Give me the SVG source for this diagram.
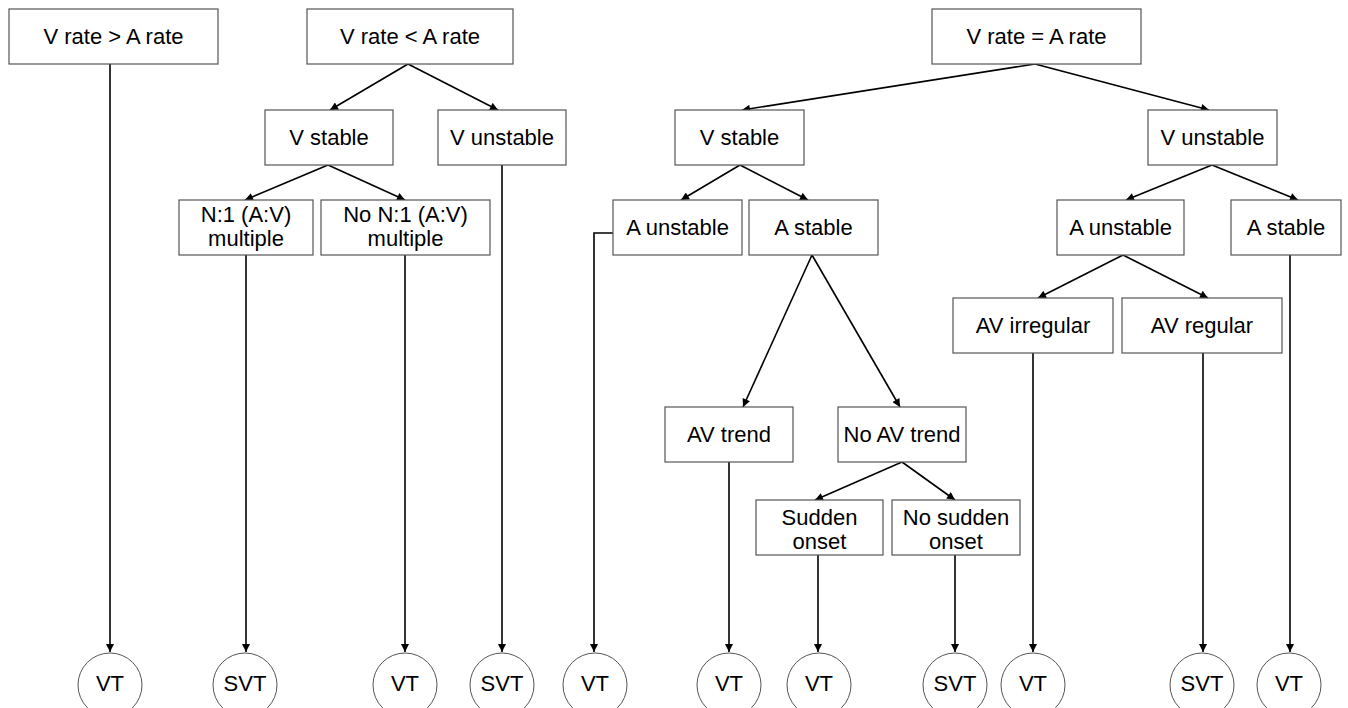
<svg xmlns="http://www.w3.org/2000/svg" width="1348" height="708" viewBox="0 0 1348 708">
<style>
.box{fill:#fff;stroke:#555;stroke-width:1.2}
.t{font-family:"Liberation Sans",Arial,sans-serif;font-size:22px;fill:#000;text-anchor:middle}
.c{fill:#fff;stroke:#555;stroke-width:1}
.e{fill:none;stroke:#000;stroke-width:1.6;marker-end:url(#ah)}
</style>
<defs>
<marker id="ah" viewBox="0 0 10 10" refX="10" refY="5" markerWidth="9" markerHeight="8" orient="auto" markerUnits="userSpaceOnUse">
<path d="M0,0 L10,5 L0,10 z" fill="#000"/>
</marker>
</defs>
<rect width="1348" height="708" fill="#fff"/>
<g id="connectors">
<line class="e" x1="408" y1="64" x2="330" y2="110"/>
<line class="e" x1="408" y1="64" x2="498" y2="110"/>
<line class="e" x1="328" y1="165" x2="245" y2="200"/>
<line class="e" x1="328" y1="165" x2="405" y2="200"/>
<line class="e" x1="1035" y1="64" x2="742" y2="110"/>
<line class="e" x1="1035" y1="64" x2="1209" y2="110"/>
<line class="e" x1="740" y1="165" x2="681" y2="200"/>
<line class="e" x1="740" y1="165" x2="808" y2="200"/>
<line class="e" x1="1212" y1="165" x2="1126" y2="200"/>
<line class="e" x1="1212" y1="165" x2="1298" y2="200"/>
<line class="e" x1="812" y1="255" x2="743" y2="407"/>
<line class="e" x1="812" y1="255" x2="900" y2="407"/>
<line class="e" x1="902" y1="462" x2="815" y2="500"/>
<line class="e" x1="902" y1="462" x2="955" y2="500"/>
<line class="e" x1="1123" y1="255" x2="1038" y2="298"/>
<line class="e" x1="1123" y1="255" x2="1208" y2="298"/>
<line class="e" x1="110" y1="64" x2="110" y2="652"/>
<line class="e" x1="246" y1="255" x2="246" y2="652"/>
<line class="e" x1="405" y1="255" x2="405" y2="652"/>
<line class="e" x1="502" y1="165" x2="502" y2="652"/>
<path class="e" d="M613,233 H594 V652"/>
<line class="e" x1="729" y1="462" x2="729" y2="652"/>
<line class="e" x1="818" y1="555" x2="818" y2="652"/>
<line class="e" x1="955" y1="555" x2="955" y2="652"/>
<line class="e" x1="1033" y1="353" x2="1033" y2="652"/>
<line class="e" x1="1203" y1="353" x2="1203" y2="652"/>
<line class="e" x1="1290" y1="255" x2="1290" y2="652"/>
</g>
<g id="n1"><rect class="box" x="9" y="9" width="209" height="55"/><text class="t" x="113.5" y="44">V rate &gt; A rate</text></g>
<g id="n2"><rect class="box" x="307" y="9" width="206" height="55"/><text class="t" x="410" y="44">V rate &lt; A rate</text></g>
<g id="n3"><rect class="box" x="265" y="110" width="128" height="55"/><text class="t" x="329" y="145">V stable</text></g>
<g id="n4"><rect class="box" x="438" y="110" width="128" height="55"/><text class="t" x="502" y="145">V unstable</text></g>
<g id="n5"><rect class="box" x="179" y="200" width="134" height="55"/><text class="t" x="246" y="222">N:1 (A:V)</text><text class="t" x="246" y="246">multiple</text></g>
<g id="n6"><rect class="box" x="321" y="200" width="169" height="55"/><text class="t" x="405.5" y="222">No N:1 (A:V)</text><text class="t" x="405.5" y="246">multiple</text></g>
<g id="n7"><rect class="box" x="932" y="9" width="209" height="55"/><text class="t" x="1036.5" y="44">V rate = A rate</text></g>
<g id="n8"><rect class="box" x="675" y="110" width="129" height="55"/><text class="t" x="739.5" y="145">V stable</text></g>
<g id="n9"><rect class="box" x="1148" y="110" width="129" height="55"/><text class="t" x="1212.5" y="145">V unstable</text></g>
<g id="n10"><rect class="box" x="613" y="200" width="129" height="55"/><text class="t" x="677.5" y="235">A unstable</text></g>
<g id="n11"><rect class="box" x="749" y="200" width="129" height="55"/><text class="t" x="813.5" y="235">A stable</text></g>
<g id="n12"><rect class="box" x="1057" y="200" width="127" height="55"/><text class="t" x="1120.5" y="235">A unstable</text></g>
<g id="n13"><rect class="box" x="1231" y="200" width="110" height="55"/><text class="t" x="1286" y="235">A stable</text></g>
<g id="n14"><rect class="box" x="953" y="298" width="160" height="55"/><text class="t" x="1033" y="333">AV irregular</text></g>
<g id="n15"><rect class="box" x="1122" y="298" width="160" height="55"/><text class="t" x="1202" y="333">AV regular</text></g>
<g id="n16"><rect class="box" x="665" y="407" width="128" height="55"/><text class="t" x="729" y="442">AV trend</text></g>
<g id="n17"><rect class="box" x="838" y="407" width="128" height="55"/><text class="t" x="902" y="442">No AV trend</text></g>
<g id="n18"><rect class="box" x="756" y="500" width="127" height="55"/><text class="t" x="819.5" y="525">Sudden</text><text class="t" x="819.5" y="549">onset</text></g>
<g id="n19"><rect class="box" x="892" y="500" width="128" height="55"/><text class="t" x="956" y="525">No sudden</text><text class="t" x="956" y="549">onset</text></g>
<g id="o1"><ellipse class="c" cx="110" cy="685" rx="32" ry="32"/><text class="t" x="110" y="691">VT</text></g>
<g id="o2"><ellipse class="c" cx="245" cy="685" rx="32" ry="32"/><text class="t" x="245" y="691">SVT</text></g>
<g id="o3"><ellipse class="c" cx="405" cy="685" rx="32" ry="32"/><text class="t" x="405" y="691">VT</text></g>
<g id="o4"><ellipse class="c" cx="502" cy="685" rx="32" ry="32"/><text class="t" x="502" y="691">SVT</text></g>
<g id="o5"><ellipse class="c" cx="595" cy="685" rx="32" ry="32"/><text class="t" x="595" y="691">VT</text></g>
<g id="o6"><ellipse class="c" cx="729" cy="685" rx="32" ry="32"/><text class="t" x="729" y="691">VT</text></g>
<g id="o7"><ellipse class="c" cx="819" cy="685" rx="32" ry="32"/><text class="t" x="819" y="691">VT</text></g>
<g id="o8"><ellipse class="c" cx="955" cy="685" rx="32" ry="32"/><text class="t" x="955" y="691">SVT</text></g>
<g id="o9"><ellipse class="c" cx="1033" cy="685" rx="32" ry="32"/><text class="t" x="1033" y="691">VT</text></g>
<g id="o10"><ellipse class="c" cx="1202" cy="685" rx="32" ry="32"/><text class="t" x="1202" y="691">SVT</text></g>
<g id="o11"><ellipse class="c" cx="1289" cy="685" rx="32" ry="32"/><text class="t" x="1289" y="691">VT</text></g>
</svg>
